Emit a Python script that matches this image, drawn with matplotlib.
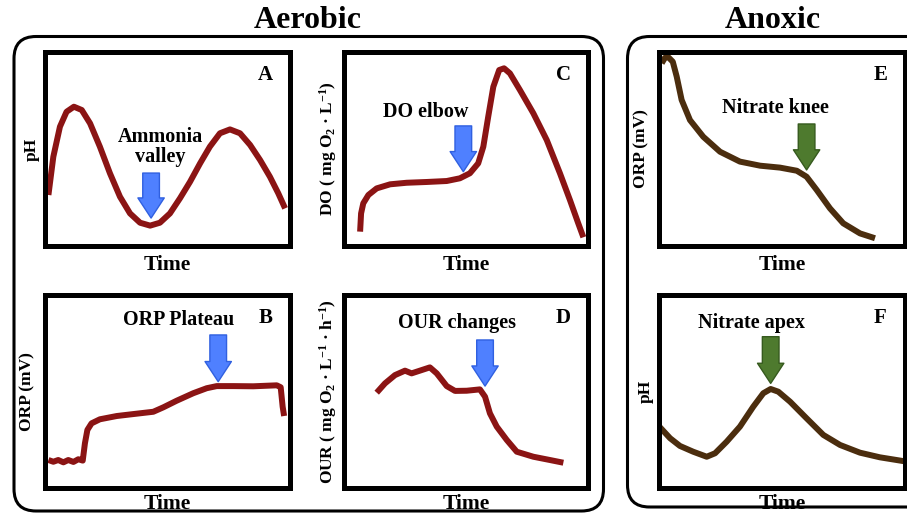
"""Schematic of control-point signatures: aerobic vs anoxic phases."""
import matplotlib

matplotlib.use("Agg")
import matplotlib.pyplot as plt
from matplotlib.patches import FancyBboxPatch

plt.rcParams["font.family"] = ["Liberation Serif", "DejaVu Serif"]
plt.rcParams["font.weight"] = "bold"
plt.rcParams["mathtext.fontset"] = "custom"
plt.rcParams["mathtext.rm"] = "Liberation Serif:bold"
plt.rcParams["mathtext.it"] = "Liberation Serif:bold:italic"
plt.rcParams["mathtext.bf"] = "Liberation Serif:bold"

RED = "#8b1414"
BROWN = "#4b2d0e"
BLUE = "#4f80ff"
BLUE_EDGE = "#3060e0"
GREEN = "#4e7a2e"
GREEN_EDGE = "#365a1e"

# --- data (time and signal on an arbitrary 0-100 scale) ---
A_TIME = [1.4, 3.4, 6.1, 8.8, 11.8, 15.0, 18.4, 22.4, 26.5, 30.6, 34.7, 38.8, 42.9, 46.9,
          51.0, 55.1, 59.2, 63.3, 67.3, 71.4, 75.5, 79.6, 83.7, 87.8, 91.8, 95.2, 98.0]
A_PH = [26.3, 46.0, 61.5, 69.2, 71.8, 70.1, 63.2, 51.2, 37.5, 25.4, 16.8, 12.0, 10.5, 12.0,
        16.8, 24.6, 33.1, 42.6, 51.2, 58.1, 60.1, 58.1, 52.1, 44.3, 35.7, 27.2, 19.4]

B_TIME = [1.4, 3.4, 5.4, 7.5, 9.5, 11.6, 13.6, 15.4, 16.3, 17.3, 19.0, 22.4, 29.3, 36.0,
          44.2, 48.3, 53.7, 60.5, 66.0, 70.1, 76.9, 85.0, 94.6, 96.2, 97.0, 97.6]
B_ORP = [14.5, 13.6, 14.5, 13.3, 14.5, 13.5, 14.9, 14.2, 23.2, 30.1, 33.5, 35.6, 37.3, 38.3,
         39.5, 41.8, 45.2, 49.1, 51.7, 52.8, 52.8, 52.7, 53.2, 52.2, 42.1, 37.3]

C_TIME = [6.6, 7.0, 7.9, 10.0, 13.4, 18.9, 25.7, 33.9, 42.1, 47.5, 51.6, 55.0, 57.1, 59.1,
          61.2, 63.6, 65.6, 68.0, 72.1, 77.6, 83.1, 88.5, 92.6, 96.0, 98.1]
C_DO = [7.4, 16.8, 22.0, 26.3, 29.7, 31.8, 32.6, 33.0, 33.5, 34.9, 37.5, 42.6, 51.2, 66.6,
        82.1, 90.7, 91.6, 89.0, 80.4, 68.4, 54.6, 37.5, 23.7, 11.7, 4.5]

D_TIME = [13.4, 16.8, 20.9, 25.0, 27.7, 31.1, 35.2, 38.0, 42.1, 45.5, 50.3, 55.7, 57.8,
          59.8, 62.6, 66.7, 70.8, 77.6, 84.4, 89.9]
D_OUR = [49.4, 54.2, 58.5, 60.8, 59.4, 60.8, 62.5, 59.4, 52.8, 50.3, 50.4, 51.1, 47.3,
         38.7, 31.8, 24.9, 18.8, 16.2, 14.5, 13.1]

E_TIME = [1.1, 2.4, 3.8, 5.6, 7.2, 9.2, 12.6, 18.0, 24.8, 32.9, 41.1, 49.2, 56.0, 60.0,
          64.1, 69.5, 74.9, 81.7, 87.8]
E_ORP = [94.2, 97.0, 97.3, 95.0, 87.3, 75.3, 64.9, 56.3, 48.6, 43.5, 41.4, 40.4, 38.8, 35.7,
         28.9, 19.4, 11.7, 6.5, 4.0]

F_TIME = [0.0, 4.5, 8.5, 13.9, 19.4, 22.8, 27.5, 32.9, 38.3, 42.4, 45.4, 48.5, 53.3, 60.0,
          66.8, 73.6, 81.7, 89.8, 100.0]
F_PH = [32.0, 25.8, 21.8, 18.8, 16.2, 18.0, 24.0, 31.8, 42.1, 49.1, 51.3, 49.9, 44.7, 36.1,
        27.5, 22.3, 18.3, 15.9, 13.8]

# arrow: (time, tail signal, tip signal)
ARROWS = {
    "A": (43.3, 37.6, 14.4),
    "B": (70.7, 79.3, 55.1),
    "C": (48.9, 61.9, 38.3),
    "D": (57.8, 76.7, 52.8),
    "E": (60.0, 62.9, 39.2),
    "F": (45.4, 78.4, 54.2),
}
# annotation text and its position
NOTES = {
    "A": ("Ammonia\nvalley", 47.0, 51.0),
    "B": ("ORP Plateau", 54.4, 87.0),
    "C": ("DO elbow", 33.6, 69.2),
    "D": ("OUR changes", 46.2, 85.3),
    "E": ("Nitrate knee", 47.2, 71.0),
    "F": ("Nitrate apex", 37.7, 85.6),
}
YLABELS = {
    "A": "pH",
    "B": "ORP (mV)",
    "C": "DO ( mg O$_2$ · L$^{-1}$)",
    "D": "OUR ( mg O$_2$ · L$^{-1}$ · h$^{-1}$)",
    "E": "ORP (mV)",
    "F": "pH",
}

W, H = 907, 515
fig = plt.figure(figsize=(W / 100, H / 100), dpi=100)


def px_axes(left, top, right, bottom):
    return fig.add_axes([left / W, (H - bottom) / H, (right - left) / W, (bottom - top) / H])


def panel(key, box, t, y, color, fc, ec, ylab_dx=-0.13, time_dy=-0.124):
    ax = px_axes(*box)
    ax.plot(t, y, color=color, lw=4.3, solid_capstyle="butt", solid_joinstyle="round")
    x, y0, y1 = ARROWS[key]
    ax.annotate("", xy=(x, y1), xytext=(x, y0),
                arrowprops=dict(arrowstyle="simple,head_width=1.9,head_length=1.45,tail_width=1.2",
                                mutation_scale=10, fc=fc, ec=ec, lw=1.0,
                                shrinkA=0, shrinkB=0))
    txt, tx, ty = NOTES[key]
    ax.text(tx, ty, txt, ha="center", va="center", fontsize=14.5, linespacing=1.0)
    ax.text(90, 88, key, ha="center", va="center", fontsize=15)
    ax.text(0.5, time_dy, "Time", transform=ax.transAxes, ha="center", va="baseline",
            fontsize=15.5)
    ax.text(ylab_dx, 0.5, YLABELS[key], transform=ax.transAxes, ha="center", va="center",
            rotation=90, fontsize=12.5)
    ax.set_xlim(0, 100)
    ax.set_ylim(0, 100)
    ax.set_xticks([])
    ax.set_yticks([])
    for s in ax.spines.values():
        s.set_linewidth(3.6)
        s.set_color("black")
    return ax


# rounded group boxes, drawn in inches so the corners stay circular
for x0, y0, x1, y1 in [(14, 36.5, 603.5, 511), (627.5, 36.5, 940, 507)]:
    fig.patches.append(FancyBboxPatch(
        (x0 / 100, (H - y1) / 100), (x1 - x0) / 100, (y1 - y0) / 100,
        boxstyle="round,pad=0,rounding_size=0.22", transform=fig.dpi_scale_trans,
        fill=False, ec="black", lw=2.2))

fig.text(308 / W, 1 - 21 / H, "Aerobic", ha="center", va="center", fontsize=23)
fig.text(773 / W, 1 - 21 / H, "Anoxic", ha="center", va="center", fontsize=23)

panel("A", (45, 52, 290, 246), A_TIME, A_PH, RED, BLUE, BLUE_EDGE, ylab_dx=-0.055)
panel("B", (45, 295, 290, 488), B_TIME, B_ORP, RED, BLUE, BLUE_EDGE, ylab_dx=-0.07,
      time_dy=-0.108)
panel("C", (344, 52, 588, 246), C_TIME, C_DO, RED, BLUE, BLUE_EDGE, ylab_dx=-0.065)
panel("D", (344, 295, 588, 488), D_TIME, D_OUR, RED, BLUE, BLUE_EDGE, ylab_dx=-0.065,
      time_dy=-0.108)
panel("E", (659, 52, 905, 246), E_TIME, E_ORP, BROWN, GREEN, GREEN_EDGE, ylab_dx=-0.07)
panel("F", (659, 295, 905, 488), F_TIME, F_PH, BROWN, GREEN, GREEN_EDGE, ylab_dx=-0.055,
      time_dy=-0.108)

fig.savefig("out.png", dpi=100)
